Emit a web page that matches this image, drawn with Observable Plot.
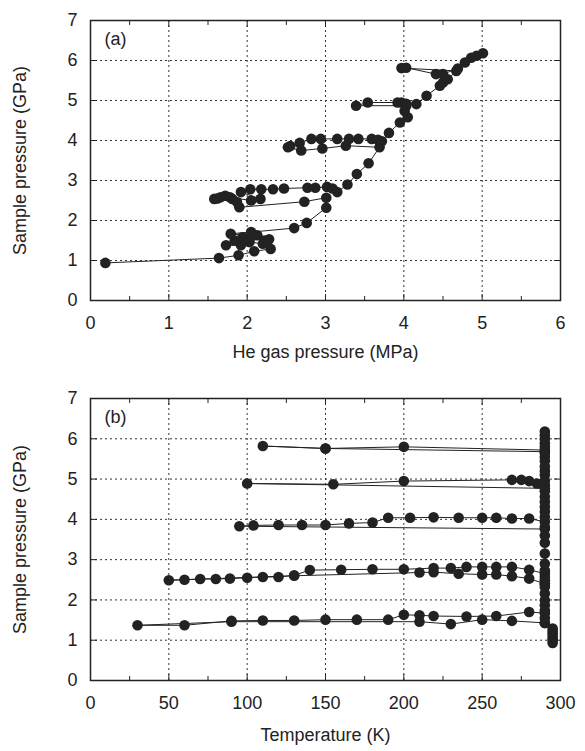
<!DOCTYPE html>
<html><head><meta charset="utf-8">
<script src="https://cdn.jsdelivr.net/npm/d3@7"></script>
<script src="https://cdn.jsdelivr.net/npm/@observablehq/plot@0.6"></script>
<style>
body{margin:0;background:#fff;}
#chart{width:585px;}
svg{display:block;}
</style></head><body><div id="chart"></div>
<script>
// Panel (a): He gas pressure (MPa) vs sample pressure (GPa), in measurement order
const heGasVsSample = [
  [0.19,0.94],[1.64,1.06],[1.89,1.13],[2.09,1.23],[2.30,1.29],
  [2.28,1.53],[2.22,1.50],[2.20,1.42],[2.03,1.46],[1.92,1.38],[1.73,1.38],[1.84,1.50],[1.94,1.58],[2.13,1.63],[2.05,1.60],[1.79,1.67],[2.05,1.71],
  [2.60,1.81],[2.76,1.94],[3.01,2.32],
  [3.01,2.57],[2.73,2.47],[1.90,2.33],[1.87,2.46],[1.81,2.54],[1.72,2.62],[1.66,2.58],[1.58,2.54],[1.62,2.55],[1.78,2.58],[2.05,2.50],[2.17,2.54],
  [1.92,2.71],[2.04,2.78],[2.18,2.78],[2.33,2.78],[2.47,2.80],[2.77,2.82],[2.87,2.82],[3.02,2.84],[3.09,2.80],[3.15,2.71],[3.28,2.90],
  [3.40,3.16],[3.55,3.43],[3.69,3.83],[3.26,3.87],[2.96,3.80],[2.69,3.75],[2.52,3.83],[2.55,3.86],[2.67,3.94],[2.82,4.04],[2.94,4.04],
  [3.15,4.04],[3.30,4.04],[3.42,4.04],[3.59,4.04],[3.67,4.02],[3.72,3.98],[3.81,4.19],[3.95,4.45],[4.05,4.58],
  [4.01,4.74],[4.03,4.87],[3.39,4.87],[3.54,4.95],[3.92,4.95],[3.97,4.95],[4.03,4.92],[4.16,4.91],[4.29,5.12],[4.46,5.37],[4.50,5.45],[4.56,5.53],
  [4.67,5.74],[3.97,5.81],[4.03,5.82],[4.41,5.66],[4.50,5.66],[4.69,5.80],[4.78,5.95],[4.86,6.07],[4.93,6.12],[5.01,6.18]
];
// Panel (b): temperature (K) vs sample pressure (GPa), in measurement order
const temperatureVsSample = [
  [295,0.93],[295,0.99],[295,1.05],[295,1.11],[295,1.17],[295,1.23],[295,1.29],
  [290,1.43],[290,1.55],[290,1.67],
  [280,1.70],[259,1.60],[240,1.59],[219,1.60],[210,1.62],[200,1.63],[190,1.51],[170,1.51],[150,1.51],[130,1.49],[110,1.49],[90,1.48],[60,1.37],[30,1.37],
  [90,1.46],[210,1.46],[230,1.40],[250,1.51],[269,1.48],[290,1.43],
  [290,1.74],[290,1.87],[290,1.99],[290,2.16],[290,2.32],[290,2.40],[290,2.49],[290,2.57],[290,2.65],
  [280,2.75],[269,2.82],[259,2.82],[250,2.82],[240,2.82],[230,2.79],[219,2.79],[200,2.76],[180,2.76],[160,2.75],[140,2.74],[130,2.61],
  [120,2.57],[110,2.57],[100,2.55],[89,2.53],[80,2.52],[70,2.52],[60,2.50],[50,2.49],
  [130,2.60],[210,2.68],[219,2.69],[235,2.65],[250,2.63],[259,2.63],[269,2.59],[280,2.53],[290,2.40],
  [290,2.73],[290,2.90],[290,3.15],[290,3.42],[290,3.60],[290,3.81],[290,3.94],
  [280,4.02],[269,4.02],[259,4.04],[250,4.04],[235,4.04],[219,4.05],[204,4.04],[190,4.04],[180,3.92],[165,3.90],[150,3.86],[135,3.86],[120,3.86],[104,3.85],[95,3.83],
  [290,3.76],
  [290,4.06],[290,4.19],[290,4.31],[290,4.44],[290,4.56],[290,4.70],[290,4.85],
  [285,4.89],[280,4.95],[275,4.98],[269,4.98],[200,4.95],[155,4.87],[100,4.89],[290,4.77],
  [290,4.96],[290,5.10],[290,5.20],[290,5.31],[290,5.45],[290,5.55],[290,5.65],[290,5.72],
  [200,5.80],[150,5.76],[110,5.82],[150,5.76],[290,5.68],
  [290,5.80],[290,5.89],[290,5.99],[290,6.08],[290,6.18]
];

const xTicksA = [0,1,2,3,4,5,6];
const xMinorA = [0.5,1.5,2.5,3.5,4.5,5.5];
const xGridA = [1,2,3,4,5];
const xTicksB = [0,50,100,150,200,250,300];
const xMinorB = [25,75,125,175,225,275];
const xGridB = [50,100,150,200,250];
const yTicks = [0,1,2,3,4,5,6,7];
const yGrid = [1,2,3,4,5,6];

const ink = "#222";

function panel({data, xDomain, xTicks, xMinor, xGrid, xLabel, tag, height, marginTop, marginBottom, labelDy}) {
  const rows = data.map(([x, y]) => ({x, y}));
  const gridStyle = {stroke: "#333", strokeOpacity: 1, strokeWidth: 1, strokeDasharray: "2,3"};
  return Plot.plot({
    width: 585, height, marginLeft: 90, marginRight: 25, marginTop, marginBottom,
    style: {fontFamily: "'Liberation Sans', Arial, Helvetica, sans-serif", fontSize: "18px", color: ink, background: "#fff"},
    x: {domain: xDomain},
    y: {domain: [0, 7]},
    marks: [
      Plot.gridX(xGrid, gridStyle),
      Plot.gridY(yGrid, gridStyle),
      Plot.line(rows, {x: "x", y: "y", stroke: ink, strokeWidth: 1}),
      Plot.dot(rows, {x: "x", y: "y", r: 5.3, fill: ink, stroke: "none"}),
      Plot.axisX(xTicks, {anchor: "bottom", tickSize: 0, tickPadding: 16, label: null, fontSize: 18}),
      Plot.axisX(xTicks, {anchor: "bottom", tickSize: -6, tickFormat: () => "", label: null, stroke: ink}),
      Plot.axisX(xTicks, {anchor: "top", tickSize: -6, tickFormat: () => "", label: null, stroke: ink}),
      Plot.axisX(xMinor, {anchor: "bottom", tickSize: -4, tickFormat: () => "", label: null, stroke: ink}),
      Plot.axisX(xMinor, {anchor: "top", tickSize: -4, tickFormat: () => "", label: null, stroke: ink}),
      Plot.axisY(yTicks, {anchor: "left", tickSize: 0, tickPadding: 13, label: null, fontSize: 18}),
      Plot.axisY(yTicks, {anchor: "left", tickSize: -7, tickFormat: () => "", label: null, stroke: ink}),
      Plot.axisY(yTicks, {anchor: "right", tickSize: -7, tickFormat: () => "", label: null, stroke: ink}),
      Plot.frame({stroke: ink, strokeWidth: 1.5}),
      Plot.text([tag], {text: d => d, frameAnchor: "top-left", dx: 14, dy: 12, lineAnchor: "top", textAnchor: "start", fontSize: 18}),
      Plot.text([xLabel], {text: d => d, frameAnchor: "bottom", dy: labelDy, lineAnchor: "middle", textAnchor: "middle", fontSize: 18}),
      Plot.text(["Sample pressure (GPa)"], {text: d => d, frameAnchor: "left", dx: -70, rotate: -90, lineAnchor: "middle", textAnchor: "middle", fontSize: 18})
    ]
  });
}

const chart = document.getElementById("chart");
chart.append(panel({
  data: heGasVsSample, xDomain: [0, 6], xTicks: xTicksA, xMinor: xMinorA, xGrid: xGridA,
  xLabel: "He gas pressure (MPa)", tag: "(a)", height: 375, marginTop: 20, marginBottom: 75, labelDy: 52
}));
chart.append(panel({
  data: temperatureVsSample, xDomain: [0, 300], xTicks: xTicksB, xMinor: xMinorB, xGrid: xGridB,
  xLabel: "Temperature (K)", tag: "(b)", height: 376, marginTop: 23, marginBottom: 71, labelDy: 55
}));
</script>
</body></html>
